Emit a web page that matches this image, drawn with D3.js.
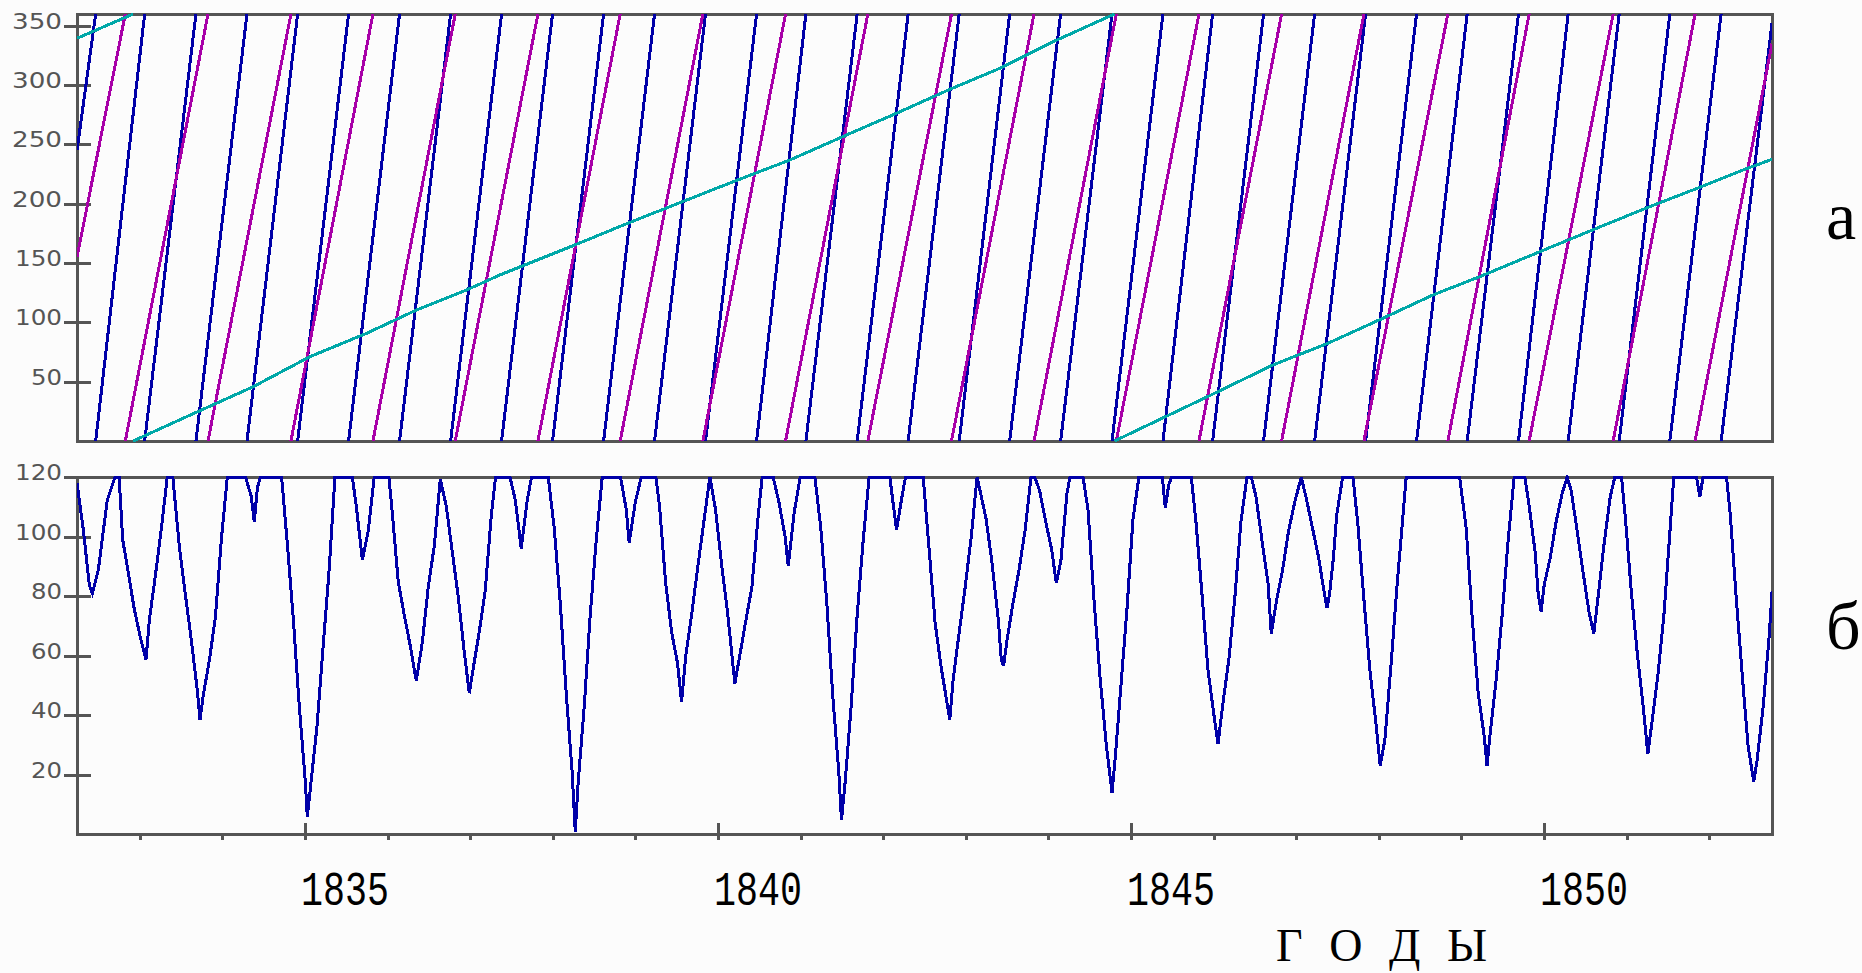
<!DOCTYPE html>
<html><head><meta charset="utf-8">
<script src="https://cdn.jsdelivr.net/npm/d3@7"></script>
<style>html,body{margin:0;padding:0;background:#fcfcfc;} svg{display:block;}</style>
</head><body>
<svg id="chart" width="1862" height="973"></svg>
<script>
// ---------------- data ----------------
const yearDomain = [1832.24, 1852.76];

// blue series: years where the longitude wraps 360 -> 0
const venusWraps = [1832.466, 1833.059, 1833.680, 1834.298, 1834.911, 1835.528, 1836.145, 1836.763,
  1837.380, 1837.997, 1838.615, 1839.232, 1839.849, 1840.467, 1841.064, 1841.685, 1842.302, 1842.920,
  1843.531, 1844.148, 1844.770, 1845.387, 1845.988, 1846.605, 1847.223, 1847.840, 1848.457, 1849.070,
  1849.691, 1850.292, 1850.910, 1851.523, 1852.144];
const venusStart = 245, venusEnd = 352;

// magenta series wraps
const earthWraps = [1832.825, 1833.826, 1834.830, 1835.823, 1836.819, 1837.820, 1838.816, 1839.817,
  1840.818, 1841.814, 1842.827, 1843.826, 1844.822, 1845.823, 1846.823, 1847.820, 1848.836, 1849.820,
  1850.837, 1851.829];
const earthStart = 155, earthEnd = 335;

// cyan series (slow)
const jupiterYears = [1832.24, 1832.92, 1832.92, 1833.729, 1834.374, 1835.060, 1835.746, 1836.351, 1836.956,
  1837.360, 1838.268, 1838.954, 1839.539, 1840.184, 1840.870, 1841.556, 1842.161, 1842.807, 1843.412,
  1844.015, 1844.80, 1844.80, 1846.053, 1846.718, 1847.384, 1848.050, 1848.655, 1849.220, 1849.949,
  1850.635, 1851.281, 1851.886, 1852.410, 1852.761];
const jupiterValues = [339.5, 360, 0, 25.6, 45.8, 71.1, 90.8, 110.5, 127.3,
  140.0, 165.3, 184.9, 200.9, 218.6, 236.9, 258.0, 276.3, 296.5, 314.2,
  335.3, 360, 0, 41.6, 64.1, 82.4, 103.5, 123.1, 138.5, 159.6,
  179.3, 197.6, 213.9, 228.5, 237.5];

// lower panel curve
const distYears = [1832.24,1832.317,1832.353,1832.389,1832.426,1832.498,1832.607,1832.700,1832.750,1832.793,
1832.861,1832.934,1833.007,1833.075,1833.115,1833.188,1833.261,1833.333,1833.400,1833.479,1833.551,1833.624,
1833.696,1833.729,1833.769,1833.842,1833.914,1833.987,1834.060,1834.281,1834.350,1834.386,1834.423,1834.459,
1834.717,1834.786,1834.858,1834.931,1835.004,1835.028,1835.060,1835.145,1835.217,1835.290,1835.363,1835.573,
1835.621,1835.694,1835.766,1835.839,1836.016,1836.057,1836.129,1836.202,1836.275,1836.347,1836.420,1836.492,
1836.565,1836.638,1836.710,1836.783,1836.855,1836.928,1836.989,1837.037,1837.110,1837.182,1837.255,1837.307,
1837.481,1837.546,1837.618,1837.691,1837.743,1837.945,1838.018,1838.090,1838.163,1838.235,1838.272,1838.308,
1838.381,1838.453,1838.526,1838.599,1838.820,1838.889,1838.925,1838.998,1839.071,1839.248,1839.292,1839.365,
1839.438,1839.510,1839.559,1839.611,1839.684,1839.756,1839.829,1839.902,1839.970,1840.043,1840.116,1840.204,
1840.265,1840.337,1840.410,1840.483,1840.535,1840.668,1840.741,1840.814,1840.850,1840.922,1840.995,1841.173,
1841.245,1841.318,1841.390,1841.463,1841.495,1841.540,1841.612,1841.685,1841.758,1841.830,1842.080,1842.161,
1842.234,1842.270,1842.484,1842.556,1842.629,1842.702,1842.774,1842.806,1842.847,1842.919,1842.992,1843.065,
1843.137,1843.246,1843.319,1843.392,1843.430,1843.458,1843.499,1843.571,1843.644,1843.717,1843.789,1843.834,
1843.894,1843.967,1844.039,1844.096,1844.152,1844.225,1844.261,1844.419,1844.479,1844.552,1844.624,1844.697,
1844.770,1844.806,1844.879,1844.951,1845.024,1845.096,1845.379,1845.415,1845.456,1845.492,1845.730,1845.786,
1845.859,1845.932,1846.004,1846.053,1846.113,1846.186,1846.258,1846.331,1846.404,1846.456,1846.513,1846.585,
1846.658,1846.698,1846.763,1846.835,1846.908,1846.981,1847.061,1847.126,1847.198,1847.271,1847.307,1847.372,
1847.404,1847.450,1847.489,1847.562,1847.687,1847.747,1847.820,1847.892,1847.965,1848.017,1848.074,1848.146,
1848.219,1848.292,1848.332,1848.978,1849.058,1849.131,1849.204,1849.276,1849.310,1849.348,1849.421,1849.493,
1849.566,1849.639,1849.768,1849.820,1849.893,1849.929,1849.965,1850.002,1850.074,1850.147,1850.220,1850.280,
1850.329,1850.401,1850.474,1850.546,1850.603,1850.655,1850.728,1850.801,1850.857,1850.938,1850.986,1851.059,
1851.131,1851.204,1851.257,1851.305,1851.378,1851.450,1851.523,1851.571,1851.846,1851.886,1851.926,1852.209,
1852.253,1852.326,1852.398,1852.471,1852.539,1852.580,1852.653,1852.725,1852.761];
const distValues = [118,102.2,93.0,83.7,80.9,88.7,112.3,120,120,99.0,
87.8,75.5,66.1,58.5,71.7,86.7,102.7,120,120,96.6,80.7,65.2,
48.4,38.3,46.7,58.3,72.5,98.8,120,120,113.4,105.0,116.2,120,
120,97.7,72.5,43.0,17.6,5.8,14,36.1,62.1,87.8,120,120,
110.3,92.1,101.8,120,120,108.0,84.8,73.6,63.2,51.5,64.3,82.9,
96.8,119.2,110.3,94.9,79.8,61.3,47.3,55.7,68.0,81.8,106.9,120,
120,112.3,96.0,112.3,120,120,102.7,77.8,47.1,20.6,0.8,17.6,
43.0,73.6,98.8,120,120,109.1,97.9,111.4,120,120,110.3,84.8,
68.0,57.4,44.5,60.2,74.4,89.9,105.0,120,109.1,90.8,74.4,50.6,
60.2,71.7,82.9,105.9,120,120,111.1,99.7,90.1,108.0,120,120,
102.7,77.5,46.2,20.6,4.7,17.6,43.0,73.6,98.8,120,120,102.2,
114.5,120,120,95.7,70.8,56.0,43.9,38.3,52.0,67.5,82.9,99.7,
120,105.9,90.8,72.5,58.5,56.5,65.2,77.5,88.7,102.0,120,120,
115.4,105.0,95.7,84.3,92.1,114.5,120,120,109.1,78.7,53.1,31.0,
13.9,24.6,50.1,75.5,105.9,120,120,109.5,117.3,120,120,105.0,
80.7,55.1,40.0,30.3,43.9,59.0,79.8,105.0,120,120,113.4,98.8,
84.6,67.4,78.7,88.7,102.0,111.4,120,112.3,102.7,93.0,86.7,75.9,
80.7,92.7,106.9,120,120,103.9,78.7,55.1,37.2,22.9,31.8,56.2,
82.9,106.9,120,120,102.7,72.5,47.1,32.9,22.9,33.8,52.0,73.6,
98.8,120,120,110.3,94.6,80.9,74.7,83.7,92.7,105.0,114.5,120,
115.4,102.0,87.8,74.4,67.4,79.8,97.7,113.2,120,120,105.9,80.7,
60.2,41.9,26.9,37.2,53.3,73.1,101.1,120,120,113.4,120,120,
108.0,79.8,54.0,29.4,17.6,24.9,42.8,66.3,81.5];

const topTicks = [50, 100, 150, 200, 250, 300, 350];
const bottomTicks = [20, 40, 60, 80, 100, 120];
const yearTicks = d3.range(1833, 1853);
const yearLabels = [1835, 1840, 1845, 1850];
const panelLabels = ["а", "б"];
const axisTitle = "Г О Д Ы";

// ---------------- layout ----------------
const svg = d3.select("#chart");
const L = 77, R = 1772;
const topY0 = 14, topY1 = 441;
const botY0 = 477, botY1 = 834;
const axisColor = "#555555";
const blue = "#0000a8", magenta = "#a800a8", cyan = "#00a8a8";

svg.append("rect").attr("width", 1862).attr("height", 973).attr("fill", "#fcfcfc");

const x = d3.scaleLinear().domain(yearDomain).range([L, R]);
const yTop = d3.scaleLinear().domain([0, 360]).range([topY1, topY0]);
const yBot = d3.scaleLinear().domain([0, 120]).range([botY1, botY0]);

const defs = svg.append("defs");
defs.append("clipPath").attr("id", "clipTop").append("rect")
  .attr("x", L).attr("y", topY0 - 1).attr("width", R - L).attr("height", topY1 - topY0 + 2);
defs.append("clipPath").attr("id", "clipBot").append("rect")
  .attr("x", L).attr("y", botY0 - 2).attr("width", R - L).attr("height", botY1 - botY0 + 2);

// frames
[[topY0, topY1], [botY0, botY1]].forEach(([a, b]) => {
  svg.append("rect").attr("x", L).attr("y", a).attr("width", R - L).attr("height", b - a)
    .attr("fill", "none").attr("stroke", axisColor).attr("stroke-width", 3)
    .attr("shape-rendering", "crispEdges");
});

// y ticks & labels
function yTicks(scale, ticks) {
  ticks.forEach(v => {
    const yy = Math.round(scale(v));
    svg.append("line").attr("x1", 64).attr("x2", 91).attr("y1", yy).attr("y2", yy)
      .attr("stroke", axisColor).attr("stroke-width", 3).attr("shape-rendering", "crispEdges");
    const s = String(v);
    const tl = s.length === 3 ? (s[0] === "1" ? 47 : 50) : 31;
    svg.append("text").attr("x", 62).attr("y", yy + 3).attr("text-anchor", "end")
      .attr("font-family", "DejaVu Sans").attr("font-size", 22).attr("fill", axisColor)
      .attr("textLength", tl).attr("lengthAdjust", "spacingAndGlyphs").text(s);
  });
}
yTicks(yTop, topTicks);
yTicks(yBot, bottomTicks);

// x ticks on bottom panel
yearTicks.forEach(yr => {
  const xx = Math.round(x(yr));
  const major = yearLabels.includes(yr);
  svg.append("line").attr("x1", xx).attr("x2", xx).attr("y1", major ? 823 : botY1).attr("y2", 840)
    .attr("stroke", axisColor).attr("stroke-width", 3).attr("shape-rendering", "crispEdges");
});
yearLabels.forEach(yr => {
  svg.append("text").attr("x", x(yr) - 4).attr("y", 905)
    .attr("font-family", "Liberation Mono").attr("font-size", 49).attr("fill", "#000")
    .attr("textLength", 88).attr("lengthAdjust", "spacingAndGlyphs").text(String(yr));
});

// axis title
svg.append("text").attr("x", 1276).attr("y", 961)
  .attr("font-family", "Liberation Serif").attr("font-size", 46).attr("fill", "#000")
  .attr("textLength", 211).attr("lengthAdjust", "spacing").text(axisTitle);

// panel labels
svg.append("text").attr("x", 1826).attr("y", 239).attr("font-family", "Liberation Serif")
  .attr("font-size", 68).attr("fill", "#000").text(panelLabels[0]);
svg.append("text").attr("x", 1826).attr("y", 649).attr("font-family", "Liberation Serif")
  .attr("font-size", 68).attr("fill", "#000").text(panelLabels[1]);

// ---------------- data marks ----------------
function sawSegments(start, wraps, end) {
  const segs = [];
  segs.push([[yearDomain[0], start], [wraps[0], 360]]);
  for (let i = 0; i < wraps.length - 1; i++) segs.push([[wraps[i], 0], [wraps[i + 1], 360]]);
  segs.push([[wraps[wraps.length - 1], 0], [yearDomain[1], end]]);
  return segs;
}
function splitAtWrap(xs, vs) {
  const segs = []; let cur = [];
  xs.forEach((xx, i) => {
    if (i > 0 && vs[i] < vs[i - 1]) { segs.push(cur); cur = []; }
    cur.push([xx, vs[i]]);
  });
  segs.push(cur);
  return segs;
}
const lineTop = d3.line().x(d => x(d[0])).y(d => yTop(d[1]));
const lineBot = d3.line().x(d => x(d[0])).y(d => yBot(d[1]));

const gTop = svg.append("g").attr("clip-path", "url(#clipTop)");
function drawSegs(segs, color) {
  gTop.append("g").selectAll("path").data(segs).join("path")
    .attr("d", lineTop).attr("fill", "none").attr("stroke", color).attr("stroke-width", 3)
    .attr("shape-rendering", "crispEdges");
}
drawSegs(sawSegments(venusStart, venusWraps, venusEnd), blue);
drawSegs(sawSegments(earthStart, earthWraps, earthEnd), magenta);
drawSegs(splitAtWrap(jupiterYears, jupiterValues), cyan);

const distData = distYears.map((d, i) => [d, distValues[i]]);
svg.append("g").attr("clip-path", "url(#clipBot)").append("path")
  .datum(distData).attr("d", lineBot).attr("fill", "none")
  .attr("stroke", blue).attr("stroke-width", 3).attr("stroke-linejoin", "miter")
  .attr("shape-rendering", "crispEdges");
</script>
</body></html>
